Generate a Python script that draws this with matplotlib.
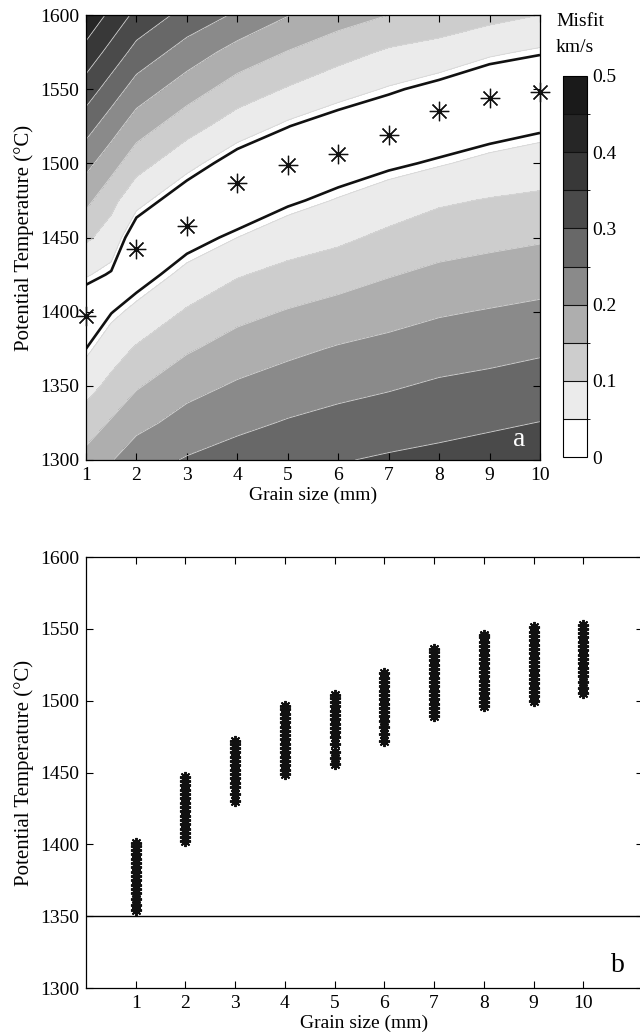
import matplotlib
matplotlib.use("Agg")

import numpy as np
import matplotlib.pyplot as plt
from matplotlib.colors import ListedColormap, BoundaryNorm

plt.rcParams["font.family"] = ["Liberation Serif", "DejaVu Serif"]
plt.rcParams["font.size"] = 14

# ---- panel a: misfit grid (km/s), one column per grain size ----
grain_size = [1, 1.5, 2, 3, 4, 5, 6, 7, 8, 9, 10]
temperature = [1300, 1325, 1350, 1375, 1400, 1425, 1450, 1475, 1500, 1525, 1550, 1575, 1600]

misfit_g1 = [0.166, 0.123, 0.082, 0.040, 0.003, 0.054, 0.109, 0.163, 0.215, 0.270, 0.327, 0.383, 0.440]
misfit_g1_5 = [0.197, 0.155, 0.113, 0.078, 0.038, 0.036, 0.077, 0.115, 0.169, 0.222, 0.277, 0.333, 0.387]
misfit_g2 = [0.229, 0.185, 0.145, 0.105, 0.062, 0.019, 0.011, 0.065, 0.120, 0.174, 0.228, 0.283, 0.337]
misfit_g3 = [0.254, 0.219, 0.183, 0.144, 0.105, 0.063, 0.022, 0.011, 0.065, 0.120, 0.174, 0.228, 0.283]
misfit_g4 = [0.272, 0.238, 0.206, 0.171, 0.135, 0.096, 0.050, 0.004, 0.018, 0.075, 0.127, 0.181, 0.243]
misfit_g5 = [0.287, 0.254, 0.222, 0.189, 0.153, 0.115, 0.075, 0.033, 0.005, 0.041, 0.096, 0.148, 0.202]
misfit_g6 = [0.297, 0.266, 0.235, 0.204, 0.168, 0.129, 0.090, 0.053, 0.016, 0.018, 0.068, 0.119, 0.173]
misfit_g7 = [0.306, 0.276, 0.245, 0.215, 0.181, 0.147, 0.111, 0.073, 0.032, 0.005, 0.046, 0.093, 0.150]
misfit_g8 = [0.313, 0.285, 0.257, 0.226, 0.195, 0.161, 0.128, 0.093, 0.046, 0.008, 0.027, 0.079, 0.134]
misfit_g9 = [0.321, 0.293, 0.264, 0.234, 0.203, 0.170, 0.136, 0.103, 0.062, 0.020, 0.005, 0.057, 0.116]
misfit_g10 = [0.328, 0.301, 0.272, 0.243, 0.211, 0.178, 0.144, 0.110, 0.072, 0.033, 0.005, 0.043, 0.100]

misfit_levels = [0, 0.05, 0.1, 0.15, 0.2, 0.25, 0.3, 0.35, 0.4, 0.45, 0.5]
band_colors = ["#ffffff", "#ebebeb", "#cdcdcd", "#aeaeae", "#8a8a8a",
               "#686868", "#4a4a4a", "#383838", "#262626", "#1a1a1a"]
cbar_ticks = [0, 0.1, 0.2, 0.3, 0.4, 0.5]
cbar_labels = ["0", "0.1", "0.2", "0.3", "0.4", "0.5"]

# best-fitting temperature for each grain size
best_grain = [1, 2, 3, 4, 5, 6, 7, 8, 9, 10]
best_temp = [1397, 1442, 1458, 1487, 1499, 1506, 1519, 1535, 1544, 1548]

# ---- panel b: accepted temperatures for each grain size ----
temp_g1 = [1354, 1358, 1362, 1366, 1369, 1372, 1375, 1378, 1381, 1384, 1387, 1390, 1393, 1396, 1399, 1401]
temp_g2 = [1402, 1405, 1408, 1411, 1414, 1417, 1420, 1423, 1426, 1429, 1432, 1435, 1438, 1441, 1444, 1447]
temp_g3 = [1430, 1435, 1440, 1443, 1446, 1449, 1452, 1455, 1458, 1461, 1464, 1467, 1470, 1472]
temp_g4 = [1449, 1452, 1455, 1458, 1461, 1464, 1467, 1470, 1473, 1476, 1479, 1482, 1485, 1488, 1491, 1494, 1496]
temp_g5 = [1456, 1460, 1464, 1470, 1475, 1478, 1481, 1484, 1487, 1490, 1493, 1496, 1499, 1502, 1504]
temp_g6 = [1472, 1477, 1482, 1486, 1489, 1492, 1495, 1498, 1501, 1504, 1507, 1510, 1513, 1516, 1519]
temp_g7 = [1489, 1492, 1495, 1498, 1501, 1504, 1507, 1510, 1513, 1516, 1519, 1522, 1525, 1528, 1531, 1534, 1536]
temp_g8 = [1496, 1499, 1502, 1505, 1508, 1511, 1514, 1517, 1520, 1523, 1526, 1529, 1532, 1535, 1538, 1541, 1544, 1546]
temp_g9 = [1500, 1503, 1506, 1509, 1512, 1515, 1518, 1521, 1524, 1527, 1530, 1533, 1536, 1539, 1542, 1545, 1548, 1551]
temp_g10 = [1505, 1509, 1513, 1517, 1520, 1523, 1526, 1529, 1532, 1535, 1538, 1541, 1544, 1547, 1550, 1553]
cutoff_temp = 1350

W, H = 640, 1036
fig = plt.figure(figsize=(W / 100, H / 100), dpi=100)

# -------- panel a --------
ax1 = fig.add_axes([86 / W, 1 - 460 / H, (540 - 86) / W, (460 - 15) / H])
columns = [misfit_g1, misfit_g1_5, misfit_g2, misfit_g3, misfit_g4, misfit_g5,
           misfit_g6, misfit_g7, misfit_g8, misfit_g9, misfit_g10]
Z = np.array(columns).T
G, T = np.meshgrid(grain_size, temperature)

cmap = ListedColormap(band_colors)
norm = BoundaryNorm(misfit_levels, cmap.N)
cf = ax1.contourf(G, T, Z, levels=misfit_levels, cmap=cmap, norm=norm)
ax1.contour(G, T, Z, levels=misfit_levels[1:], colors="#d6d6d6", linewidths=0.6)
ax1.contour(G, T, Z, levels=[0.04], colors="#111111", linewidths=1.9)

ax1.plot(best_grain, best_temp, linestyle="none", marker=(8, 2, 0), markersize=14,
         markeredgewidth=0.9, color="#111111", clip_on=False, zorder=5)

ax1.set_xlim(1, 10)
ax1.set_ylim(1300, 1600)
ax1.set_xticks(range(1, 11))
ax1.set_yticks(range(1300, 1601, 50))
ax1.tick_params(direction="in", top=True, right=True, length=5, width=0.8, pad=5)
for s in ax1.spines.values():
    s.set_linewidth(0.9)
ax1.set_xlabel("Grain size (mm)", labelpad=2)
ax1.set_ylabel("Potential Temperature (\u00b0C)", labelpad=4, fontsize=15)
ax1.text(0.954, 0.045, "a", transform=ax1.transAxes, color="white", fontsize=20,
         ha="center", va="center")

# colorbar
cax = fig.add_axes([563 / W, 1 - 457 / H, 24 / W, (457 - 76) / H])
cbar = fig.colorbar(cf, cax=cax, ticks=cbar_ticks, drawedges=True)
cbar.ax.set_yticklabels(cbar_labels)
cbar.ax.tick_params(length=0, pad=4)
cbar.outline.set_linewidth(0.8)
cbar.dividers.set_color("#111111")
cbar.dividers.set_linewidth(0.8)
fig.text(556 / W, 1 - 22 / H, "Misfit", ha="left", va="center", fontsize=14)
fig.text(556 / W, 1 - 48 / H, "km/s", ha="left", va="center", fontsize=14)

# -------- panel b --------
ax2 = fig.add_axes([86 / W, 1 - 988 / H, (643 - 86) / W, (988 - 557) / H])
groups = [temp_g1, temp_g2, temp_g3, temp_g4, temp_g5,
          temp_g6, temp_g7, temp_g8, temp_g9, temp_g10]
for g, temps in zip(best_grain, groups):
    ax2.plot([g] * len(temps), temps, linestyle="none", marker=(8, 2, 0),
             markersize=8, markeredgewidth=1.4, color="#111111")
ax2.axhline(cutoff_temp, color="black", linewidth=1.0)

ax2.set_xlim(0, 11.2)
ax2.set_ylim(1300, 1600)
ax2.set_xticks(range(1, 11))
ax2.set_yticks(range(1300, 1601, 50))
ax2.tick_params(direction="in", top=True, right=True, length=5, width=0.8, pad=5)
for s in ax2.spines.values():
    s.set_linewidth(0.9)
ax2.set_xlabel("Grain size (mm)", labelpad=2)
ax2.set_ylabel("Potential Temperature (\u00b0C)", labelpad=4, fontsize=15)
ax2.text(0.955, 0.053, "b", transform=ax2.transAxes, color="black", fontsize=20,
         ha="center", va="center")

fig.savefig("out.png", dpi=100)
plt.close(fig)
